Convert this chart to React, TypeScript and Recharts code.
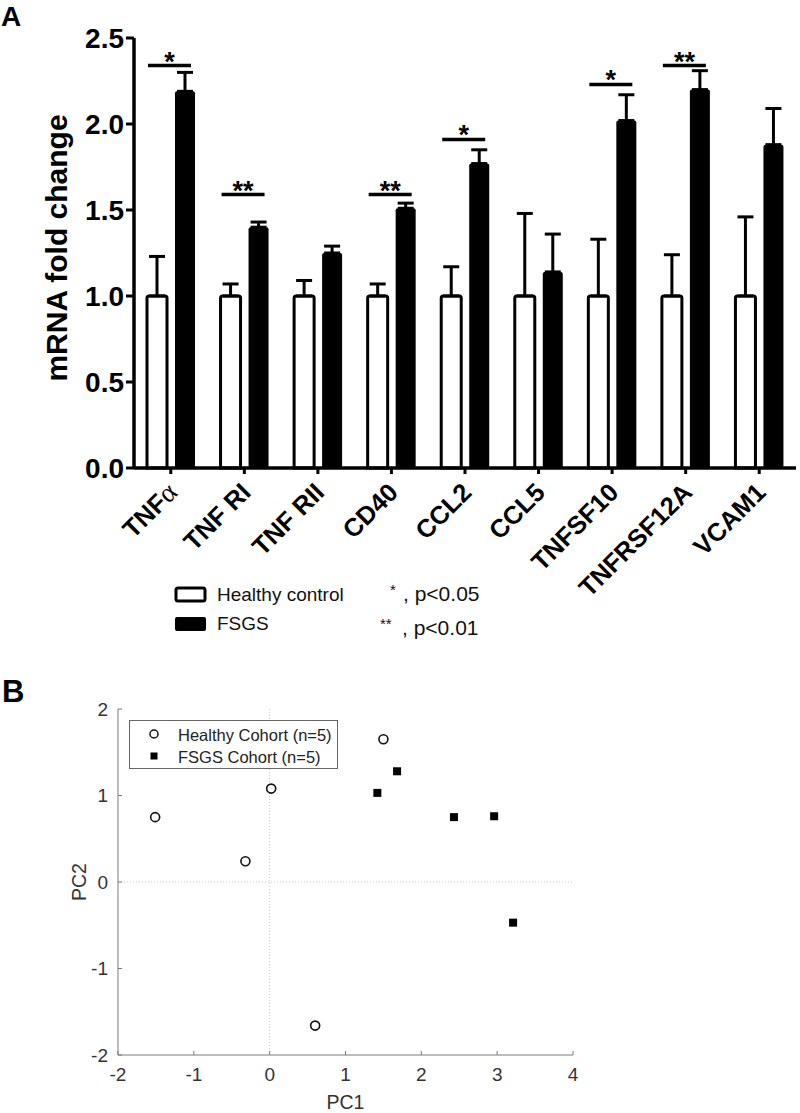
import React from "react";
import {
  Bar,
  BarChart,
  ErrorBar,
  ReferenceLine,
  Scatter,
  ScatterChart,
  XAxis,
  YAxis,
} from "recharts";

// Panel A: qPCR fold change
const genes = ["TNFα", "TNF RI", "TNF RII", "CD40", "CCL2", "CCL5", "TNFSF10", "TNFRSF12A", "VCAM1"];
const healthyMean = [1, 1, 1, 1, 1, 1, 1, 1, 1];
const healthyErr = [0.23, 0.07, 0.09, 0.07, 0.17, 0.48, 0.33, 0.24, 0.46];
const fsgsMean = [2.19, 1.4, 1.25, 1.51, 1.77, 1.14, 2.02, 2.2, 1.88];
const fsgsErr = [0.11, 0.03, 0.04, 0.03, 0.08, 0.22, 0.15, 0.11, 0.21];
const sigLevel = [2.34, 1.59, null, 1.59, 1.91, null, 2.23, 2.34, null];
const sigStars = ["*", "**", "", "**", "*", "", "*", "**", ""];
const foldTicks = [0, 0.5, 1, 1.5, 2, 2.5];

// Panel B: PCA
const healthyPC1 = [-1.51, -0.32, 0.02, 0.6, 1.5];
const healthyPC2 = [0.75, 0.24, 1.08, -1.66, 1.65];
const fsgsPC1 = [1.42, 1.68, 2.43, 2.96, 3.21];
const fsgsPC2 = [1.03, 1.28, 0.75, 0.76, -0.47];
const pc1Ticks = [-2, -1, 0, 1, 2, 3, 4];
const pc2Ticks = [-2, -1, 0, 1, 2];

const barData = genes.map((gene, i) => ({
  gene,
  healthy: healthyMean[i],
  healthyErr: [0, healthyErr[i]],
  fsgs: fsgsMean[i],
  fsgsErr: [0, fsgsErr[i]],
  sig: sigLevel[i],
  stars: sigStars[i],
}));

const healthyPoints = healthyPC1.map((x, i) => ({ x, y: healthyPC2[i] }));
const fsgsPoints = fsgsPC1.map((x, i) => ({ x, y: fsgsPC2[i] }));

const SANS = "'Liberation Sans', Arial, sans-serif";

function GeneTick({ x, y, payload }: any) {
  const label: string = payload.value;
  const isAlpha = label.endsWith("α");
  return (
    <g transform={`translate(${x + 8},${y + 18}) rotate(-45)`}>
      <text
        x={0}
        y={0}
        textAnchor="end"
        fontFamily={SANS}
        fontWeight="bold"
        fontSize={25.5}
        fill="#000"
      >
        {isAlpha ? label.slice(0, -1) : label}
        {isAlpha && (
          <tspan fontFamily="'Liberation Serif', serif" fontWeight="normal" fontSize={28}>
            α
          </tspan>
        )}
      </text>
    </g>
  );
}

// black bar plus its significance bracket, placed with the bar's own scale
function FsgsShape(props: any) {
  const { x, y, width, height, payload } = props;
  const base = y + height;
  const perUnit = payload.fsgs ? height / payload.fsgs : 0;
  const sigY = payload.sig != null ? base - payload.sig * perUnit : null;
  return (
    <g>
      <rect x={x} y={y} width={width} height={height} rx={2} fill="#000" />
      {sigY != null && (
        <g>
          <line x1={x - 27} x2={x + 16} y1={sigY} y2={sigY} stroke="#000" strokeWidth={3.5} />
          <text
            x={x - 5.5}
            y={sigY + 5}
            textAnchor="middle"
            fontFamily={SANS}
            fontWeight="bold"
            fontSize={27}
          >
            {payload.stars}
          </text>
        </g>
      )}
    </g>
  );
}

const openCircle = (p: any) => (
  <circle cx={p.cx} cy={p.cy} r={4.5} fill="#fff" stroke="#111" strokeWidth={1.6} />
);
const filledSquare = (p: any) => (
  <rect x={p.cx - 4} y={p.cy - 4} width={8} height={8} fill="#000" />
);

const emptyTick = () => <g />;

export default function App() {
  return (
    <div
      style={{
        position: "absolute",
        left: 0,
        top: 0,
        width: 800,
        height: 1113,
        background: "#fff",
        fontFamily: SANS,
      }}
    >
      <div style={{ position: "absolute", left: 0, top: 0 }}>
        <BarChart
          width={800}
          height={610}
          data={barData}
          margin={{ top: 38, right: 4, left: 0, bottom: 50 }}
          barSize={20}
          barGap={8}
        >
          <XAxis
            dataKey="gene"
            height={92}
            interval={0}
            tick={<GeneTick />}
            tickSize={6}
            axisLine={{ stroke: "#000", strokeWidth: 3.5 }}
            tickLine={{ stroke: "#000", strokeWidth: 3 }}
          />
          <YAxis
            width={134}
            domain={[0, 2.5]}
            ticks={foldTicks}
            tickFormatter={(v: number) => v.toFixed(1)}
            tickSize={8}
            tickMargin={2}
            axisLine={{ stroke: "#000", strokeWidth: 3.5 }}
            tickLine={{ stroke: "#000", strokeWidth: 3 }}
            tick={{ fontSize: 28, fontWeight: "bold", fill: "#000", fontFamily: SANS }}
            label={{
              content: ({ viewBox }: any) => (
                <text
                  transform={`translate(${viewBox.x + 67},${viewBox.y + viewBox.height / 2 - 5}) rotate(-90)`}
                  textAnchor="middle"
                  fontFamily={SANS}
                  fontWeight="bold"
                  fontSize={30}
                  fill="#000"
                >
                  mRNA fold change
                </text>
              ),
            }}
          />
          <Bar
            dataKey="healthy"
            fill="#fff"
            stroke="#000"
            strokeWidth={3}
            radius={[2, 2, 0, 0]}
            isAnimationActive={false}
          >
            <ErrorBar dataKey="healthyErr" width={8} stroke="#000" strokeWidth={3} direction="y" />
          </Bar>
          <Bar dataKey="fsgs" fill="#000" shape={<FsgsShape />} isAnimationActive={false}>
            <ErrorBar dataKey="fsgsErr" width={8} stroke="#000" strokeWidth={3} direction="y" />
          </Bar>
        </BarChart>
      </div>

      <div style={{ position: "absolute", left: 0, top: 680 }}>
        <ScatterChart width={800} height={433} margin={{ top: 29, right: 227, left: 0, bottom: 28 }}>
          <XAxis
            type="number"
            dataKey="x"
            domain={[-2, 4]}
            ticks={pc1Ticks}
            height={30}
            tickSize={-4}
            tickMargin={17}
            axisLine={{ stroke: "#7a7a7a" }}
            tickLine={{ stroke: "#7a7a7a" }}
            tick={{ fontSize: 19, fill: "#333", fontFamily: SANS }}
            label={{
              content: ({ viewBox }: any) => (
                <text
                  x={viewBox.x + viewBox.width / 2}
                  y={viewBox.y + 54}
                  textAnchor="middle"
                  fontFamily={SANS}
                  fontSize={19.5}
                  fill="#333"
                >
                  PC1
                </text>
              ),
            }}
          />
          <XAxis
            xAxisId="top"
            orientation="top"
            type="number"
            dataKey="x"
            domain={[-2, 4]}
            ticks={pc1Ticks}
            height={0}
            tickSize={-4}
            axisLine={{ stroke: "#7a7a7a" }}
            tickLine={{ stroke: "#7a7a7a" }}
            tick={emptyTick}
          />
          <YAxis
            type="number"
            dataKey="y"
            domain={[-2, 2]}
            ticks={pc2Ticks}
            width={118}
            tickSize={-4}
            tickMargin={14}
            axisLine={{ stroke: "#7a7a7a" }}
            tickLine={{ stroke: "#7a7a7a" }}
            tick={{ fontSize: 19, fill: "#333", fontFamily: SANS }}
            label={{
              content: ({ viewBox }: any) => (
                <text
                  transform={`translate(86,${viewBox.y + viewBox.height / 2}) rotate(-90)`}
                  textAnchor="middle"
                  fontFamily={SANS}
                  fontSize={19.5}
                  fill="#333"
                >
                  PC2
                </text>
              ),
            }}
          />
          <YAxis
            yAxisId="right"
            orientation="right"
            type="number"
            dataKey="y"
            domain={[-2, 2]}
            ticks={pc2Ticks}
            width={0}
            tickSize={-4}
            axisLine={{ stroke: "#7a7a7a" }}
            tickLine={{ stroke: "#7a7a7a" }}
            tick={emptyTick}
          />
          <ReferenceLine x={0} stroke="#c8c8c8" strokeDasharray="1 2" />
          <ReferenceLine y={0} stroke="#c8c8c8" strokeDasharray="1 2" />
          <Scatter name="Healthy Cohort (n=5)" data={healthyPoints} shape={openCircle} isAnimationActive={false} />
          <Scatter name="FSGS Cohort (n=5)" data={fsgsPoints} shape={filledSquare} isAnimationActive={false} />
        </ScatterChart>
      </div>

      <svg
        width={800}
        height={1113}
        style={{ position: "absolute", left: 0, top: 0, pointerEvents: "none" }}
      >
        <text x={1} y={26} fontFamily={SANS} fontWeight="bold" fontSize={28}>
          A
        </text>
        <text x={2} y={702} fontFamily={SANS} fontWeight="bold" fontSize={31}>
          B
        </text>

        {/* panel A legend */}
        <rect x={176} y={588} width={29} height={13} rx={2} fill="#fff" stroke="#000" strokeWidth={3} />
        <text x={217} y={601} fontFamily={SANS} fontSize={19} fill="#111">
          Healthy control
        </text>
        <rect x={175} y={617} width={31} height={14} rx={2} fill="#000" />
        <text x={217} y={630} fontFamily={SANS} fontSize={19} fill="#111">
          FSGS
        </text>
        <text x={390} y={595} fontFamily={SANS} fontSize={15} fill="#111">
          *
        </text>
        <text x={403} y={601} fontFamily={SANS} fontSize={21} fill="#111">
          , p&lt;0.05
        </text>
        <text x={380} y={629} fontFamily={SANS} fontSize={15} fill="#111">
          **
        </text>
        <text x={402} y={635} fontFamily={SANS} fontSize={21} fill="#111">
          , p&lt;0.01
        </text>

        {/* panel B legend */}
        <rect x={129.5} y={720.5} width={208} height={48} fill="#fff" stroke="#666" strokeWidth={1} />
        <circle cx={154} cy={734} r={4} fill="#fff" stroke="#111" strokeWidth={1.5} />
        <text x={178} y={741} fontFamily={SANS} fontSize={16.5} fill="#222">
          Healthy Cohort (n=5)
        </text>
        <rect x={150.5} y={752.5} width={7} height={7} fill="#000" />
        <text x={178} y={763} fontFamily={SANS} fontSize={16.5} fill="#222">
          FSGS Cohort (n=5)
        </text>
      </svg>
    </div>
  );
}
